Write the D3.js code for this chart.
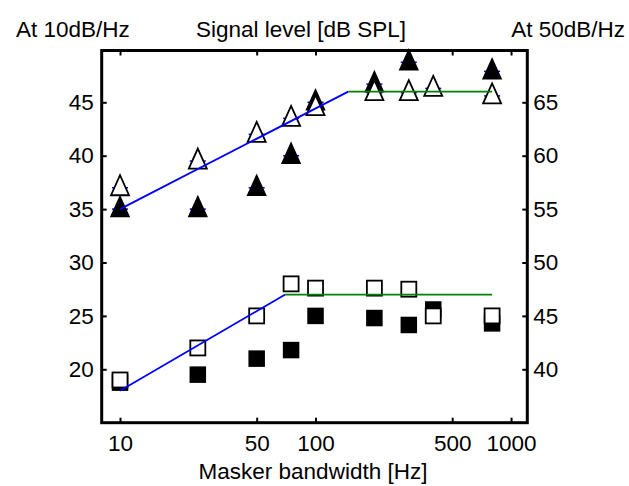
<!DOCTYPE html>
<html>
<head>
<meta charset="utf-8">
<script src="https://cdn.jsdelivr.net/npm/d3@7"></script>
<style>
  body { margin: 0; background: #fff; }
  text { font-family: "Liberation Sans", Arial, sans-serif; }
</style>
</head>
<body>
<div id="chart"></div>
<script>
// masker bandwidths [Hz]
var bandwidths = [10, 25, 50, 75, 100, 200, 300, 400, 800];
// triangles (upper group), squares (lower group), in dB on the left axis
var openTri   = [37, 39.5, 42, 43.5, 44.5, 45.9, 45.9, 46.3, 45.6];
var filledTri = [35, 35, 37, 40, 45, 46.7, 48.75, null, 47.9];
var openSq    = [19, 22, 25, 28, 27.6, 27.6, 27.5, 25, 25];
var filledSq  = [18.75, 19.5, 21, 21.8, 25, 24.8, 24.15, 25.6, 24.3];
// fitted broken-stick lines
var triRise = [[10, 35], [147, 46]];
var triFlat = [[147, 46], [800, 46]];
var sqRise  = [[10, 18], [70, 27]];
var sqFlat  = [[70, 27], [800, 27]];
// ticks
var xTicks = [10, 50, 100, 500, 1000];
var leftTicks = [20, 25, 30, 35, 40, 45];
var rightOffset = 20;   // right axis = left + 20 dB

var W = 629, H = 486;
var L = 101.7, R = 527.3, T = 50.5, B = 422.7;
var fs = 22.5;

var svg = d3.select("#chart").append("svg")
    .attr("width", W).attr("height", H);

var x = d3.scaleLog().domain([8.06, 1211]).range([L, R]);
var y = d3.scaleLinear().domain([15, 49.85]).range([B, T]);
var yR = d3.scaleLinear().domain([15 + rightOffset, 49.85 + rightOffset]).range([B, T]);

var pts = function(vals) {
    return bandwidths.map(function(b, i) { return {x: b, v: vals[i]}; })
        .filter(function(d) { return d.v != null; });
};

// little blue caps behind the triangles
var caps = svg.append("g");
[openTri, filledTri].forEach(function(vals) {
    caps.selectAll(null).data(pts(vals)).enter().append("line")
        .attr("x1", function(d) { return x(d.x) - 8; })
        .attr("x2", function(d) { return x(d.x) + 8; })
        .attr("y1", function(d) { return y(d.v); })
        .attr("y2", function(d) { return y(d.v); })
        .attr("stroke", "#0000ff").attr("stroke-width", 1.5);
});

// triangle centred on its centroid, like the plotting program did
var tri = function(d) {
    var cx = x(d.x), cy = y(d.v);
    return "M" + cx + "," + (cy - 12.5) + "L" + (cx + 9) + "," + (cy + 7.5) +
           "L" + (cx - 9) + "," + (cy + 7.5) + "Z";
};
var s = 15;

var marks = svg.append("g");
marks.selectAll(null).data(pts(filledSq)).enter().append("rect")
    .attr("x", function(d) { return x(d.x) - s / 2; })
    .attr("y", function(d) { return y(d.v) - s / 2; })
    .attr("width", s).attr("height", s)
    .attr("fill", "#000").attr("stroke", "#000").attr("stroke-width", 1.5);
marks.selectAll(null).data(pts(openSq)).enter().append("rect")
    .attr("x", function(d) { return x(d.x) - s / 2; })
    .attr("y", function(d) { return y(d.v) - s / 2; })
    .attr("width", s).attr("height", s)
    .attr("fill", "#fff").attr("stroke", "#000").attr("stroke-width", 1.8);
marks.selectAll(null).data(pts(filledTri)).enter().append("path")
    .attr("d", tri).attr("fill", "#000").attr("stroke", "#000").attr("stroke-width", 1.5);
marks.selectAll(null).data(pts(openTri)).enter().append("path")
    .attr("d", tri).attr("fill", "#fff").attr("stroke", "#000").attr("stroke-width", 1.8);

// fit lines on top
var line = d3.line().x(function(d) { return x(d[0]); }).y(function(d) { return y(d[1]); });
[[triRise, "#0000ff"], [triFlat, "#008000"], [sqRise, "#0000ff"], [sqFlat, "#008000"]]
    .forEach(function(p) {
        svg.append("path").attr("d", line(p[0]))
            .attr("fill", "none").attr("stroke", p[1]).attr("stroke-width", 1.8);
    });

// axes: inward ticks, no domain path (frame drawn separately)
var fmt = d3.format("d");
var styleAxis = function(g) {
    g.select(".domain").remove();
    g.selectAll(".tick line").attr("stroke", "#000").attr("stroke-width", 2);
    g.selectAll(".tick text").attr("font-size", fs).attr("fill", "#000")
        .attr("font-family", "Liberation Sans, Arial, sans-serif");
};
svg.append("g").attr("transform", "translate(0," + B + ")")
    .call(d3.axisBottom(x).tickValues(xTicks).tickFormat(fmt).tickSize(-5).tickPadding(12))
    .call(styleAxis);
svg.append("g").attr("transform", "translate(0," + T + ")")
    .call(d3.axisTop(x).tickValues(xTicks).tickFormat("").tickSize(-5))
    .call(styleAxis);
svg.append("g").attr("transform", "translate(" + L + ",0)")
    .call(d3.axisLeft(y).tickValues(leftTicks).tickFormat(fmt).tickSize(-5).tickPadding(8))
    .call(styleAxis);
svg.append("g").attr("transform", "translate(" + R + ",0)")
    .call(d3.axisRight(yR).tickValues(leftTicks.map(function(v) { return v + rightOffset; }))
        .tickFormat(fmt).tickSize(-5).tickPadding(6))
    .call(styleAxis);

svg.append("rect").attr("x", L).attr("y", T).attr("width", R - L).attr("height", B - T)
    .attr("fill", "none").attr("stroke", "#000").attr("stroke-width", 3);

// titles
svg.append("text").attr("x", 16).attr("y", 37).attr("font-size", fs).text("At 10dB/Hz");
svg.append("text").attr("x", 301).attr("y", 37).attr("font-size", fs)
    .attr("text-anchor", "middle").text("Signal level [dB SPL]");
svg.append("text").attr("x", 625).attr("y", 37).attr("font-size", fs)
    .attr("text-anchor", "end").text("At 50dB/Hz");
svg.append("text").attr("x", 313).attr("y", 479).attr("font-size", fs)
    .attr("text-anchor", "middle").text("Masker bandwidth [Hz]");
</script>
</body>
</html>
